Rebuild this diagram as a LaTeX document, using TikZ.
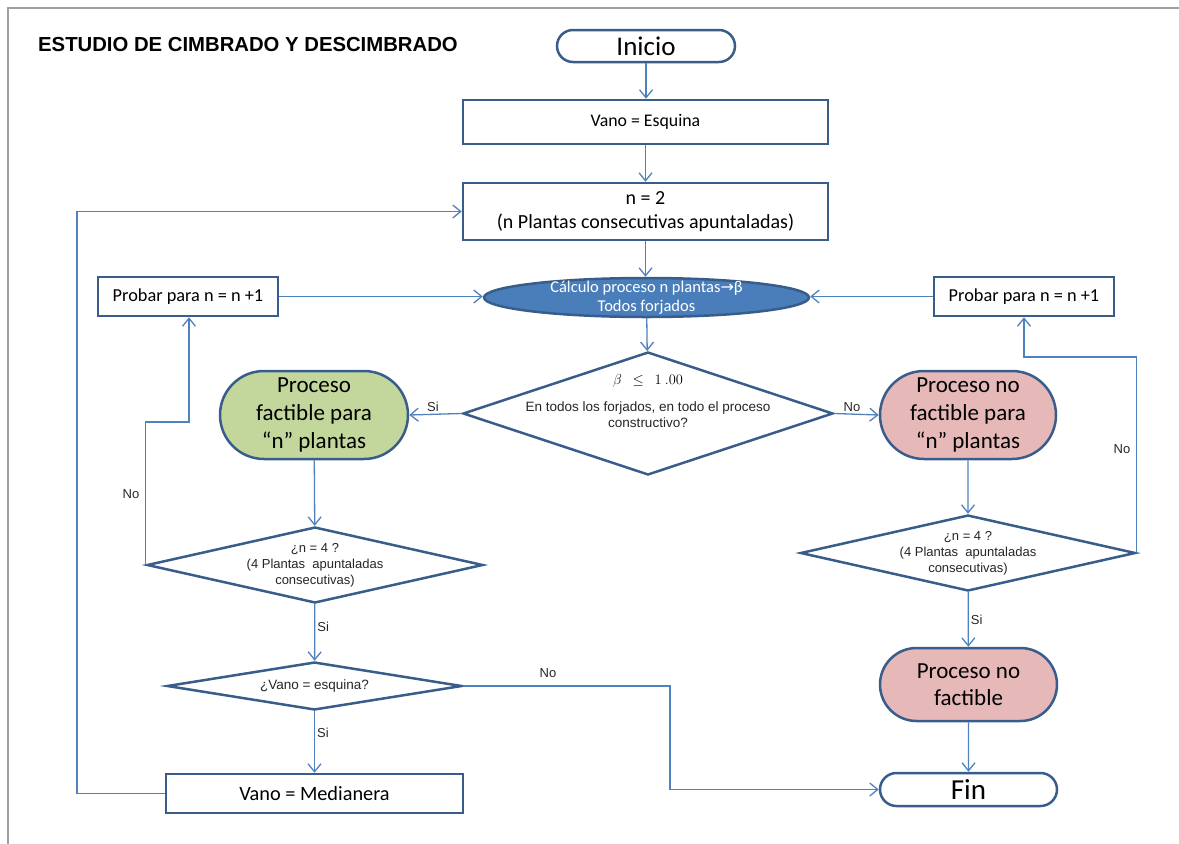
\documentclass[tikz,border=0pt]{standalone}
\usepackage{fontspec}
\setmainfont{Carlito}
\newfontfamily\arialf{Liberation Sans}
\newfontfamily\dejavu{DejaVu Sans}
\usetikzlibrary{shapes.misc,shapes.geometric,arrows.meta}
\definecolor{nodeblue}{HTML}{385D8A}
\definecolor{lineblue}{HTML}{4F81BD}
\definecolor{ellblue}{HTML}{4A7EBB}
\definecolor{okgreen}{HTML}{C3D69B}
\definecolor{nopink}{HTML}{E6B9B8}
\definecolor{framegray}{HTML}{A0A0A0}
\tikzset{
  shapebase/.style={draw=nodeblue, line width=2.5pt, inner sep=0pt, align=center},
  boxnode/.style={shapebase, rectangle, fill=white},
  termnode/.style={shapebase, rounded rectangle, fill=white},
  greennode/.style={shapebase, rounded rectangle, fill=okgreen},
  pinknode/.style={shapebase, rounded rectangle, fill=nopink},
  dianode/.style={shapebase, diamond, fill=white},
  ellnode/.style={shapebase, ellipse, fill=ellblue},
  conn/.style={draw=lineblue, line width=1.3pt, -{Straight Barb[length=8pt,width=13pt,line width=1.3pt]}},
  lbl/.style={font=\arialf\fontsize{13}{15}\selectfont, text=black!85, inner sep=2pt},
  txtA/.style={font=\arialf\fontsize{13}{16}\selectfont, align=center, text=black!85},
}
\begin{document}
\begin{tikzpicture}[x=1pt,y=-1pt]
\useasboundingbox (0,0) rectangle (1179,844);
% frame
\draw[framegray, line width=2pt] (8,844) -- (8,8) -- (1179,8);
% title
\node[font=\arialf\bfseries\fontsize{20.3}{22}\selectfont, anchor=west, inner sep=0pt] (title) at (38,45) {ESTUDIO DE CIMBRADO Y DESCIMBRADO};
% nodes
\node[termnode, minimum width=178pt, minimum height=32pt, font=\fontsize{27}{30}\selectfont] (inicio) at (646,46) {Inicio};
\node[boxnode, minimum width=365pt, minimum height=44pt, font=\fontsize{17.8}{20}\selectfont] (vano) at (645.5,122) {Vano = Esquina};
\node[boxnode, minimum width=365pt, minimum height=57pt, font=\fontsize{20}{24}\selectfont] (n2) at (645.5,211.5) {n = 2\\(n Plantas consecutivas apuntaladas)};
\node[ellnode, minimum width=325pt, minimum height=39pt] (calc) at (646.5,297.5) {};
\node[text=white, align=center, font=\fontsize{16.5}{19}\selectfont] (calctxt) at (calc) {Cálculo proceso n plantas{\dejavu\fontsize{16}{19}\selectfont →}β\\Todos forjados};
\node[boxnode, minimum width=180pt, minimum height=39pt, font=\fontsize{18.3}{20}\selectfont] (probL) at (188,296.5) {Probar para n = n +1};
\node[boxnode, minimum width=180pt, minimum height=39pt, font=\fontsize{18.3}{20}\selectfont] (probR) at (1024,296.5) {Probar para n = n +1};
\node[dianode, minimum width=370pt, minimum height=123pt] (d1) at (648,413.5) {};
\node[font=\fontsize{15}{17}\selectfont] (d1m) at (648,381) {$\beta\ \ \leq\ \ 1\ .00$};
\node[txtA, font=\arialf\fontsize{13.5}{16}\selectfont] (d1t) at (648,415) {En todos los forjados, en todo el proceso\\constructivo?};
\node[greennode, minimum width=188pt, minimum height=88pt, font=\fontsize{23}{28}\selectfont] (green) at (314,415) {Proceso\\factible para\\“n” plantas};
\node[pinknode, minimum width=176pt, minimum height=88pt, font=\fontsize{23}{28}\selectfont] (pink1) at (968,415) {Proceso no\\factible para\\“n” plantas};
\node[dianode, minimum width=336pt, minimum height=76pt] (d2) at (315,565) {};
\node[txtA] (d2t) at (d2) {¿n = 4 ?\\(4 Plantas\ \ apuntaladas\\consecutivas)};
\node[dianode, minimum width=335pt, minimum height=76pt] (d3) at (968,553) {};
\node[txtA] (d3t) at (d3) {¿n = 4 ?\\(4 Plantas\ \ apuntaladas\\consecutivas)};
\node[dianode, minimum width=295pt, minimum height=48pt] (d4) at (314.5,686) {};
\node[txtA, font=\arialf\fontsize{13.5}{16}\selectfont] (d4t) at (d4) {¿Vano = esquina?};
\node[boxnode, minimum width=297pt, minimum height=39pt, font=\fontsize{20.3}{22}\selectfont] (med) at (314.5,793.5) {Vano = Medianera};
\node[pinknode, minimum width=177pt, minimum height=73pt, font=\fontsize{23}{27}\selectfont] (pink2) at (968.5,684.5) {Proceso no\\factible};
\node[termnode, minimum width=177pt, minimum height=33pt, font=\fontsize{29}{30}\selectfont] (fin) at (968.5,789.5) {Fin};
% helper coordinates
\coordinate (kL) at (189,422);
\coordinate (kR) at (1136,357);
\coordinate (kM) at (77,793.5);
\coordinate (kN) at (670,686);
% connectors
\draw[conn] (inicio.south) -- (inicio.south |- vano.north);
\draw[conn] (vano) -- (n2);
\draw[conn] (n2) -- (n2.south |- calc.north);
\draw[conn] (probL.east) -- (probL.east -| calc.west);
\draw[conn] (probR.west) -- (probR.west -| calc.east);
\draw[conn] (calc) -- (d1);
\draw[conn] (d1.west) -- node[lbl, above, pos=0.55] {Si} (green.east);
\draw[conn] (d1.east) -- node[lbl, above, pos=0.4] {No} (pink1.west);
\draw[conn] (green) -- (d2);
\draw[conn] (d2.west) |- (kL) -- (kL |- probL.south);
\node[lbl] (lNoL) at (131,494) {No};
\draw[conn] (d2) -- node[lbl, right, pos=0.4] {Si} (d4);
\draw[conn] (d4) -- node[lbl, right, pos=0.35] {Si} (med);
\draw[conn] (d4.east) -- (kN) |- (fin.west);
\node[lbl] (lNoM) at (548,673) {No};
\draw[conn] (med.west) -- (kM) |- (n2.west);
\draw[conn] (pink1) -- (d3);
\draw[conn] (d3.east) |- (kR -| probR.south) -- (probR.south);
\node[lbl] (lNoR) at (1122,449) {No};
\draw[conn] (d3) -- node[lbl, right, pos=0.5] {Si} (pink2);
\draw[conn] (pink2) -- (fin);
\end{tikzpicture}
\end{document}
